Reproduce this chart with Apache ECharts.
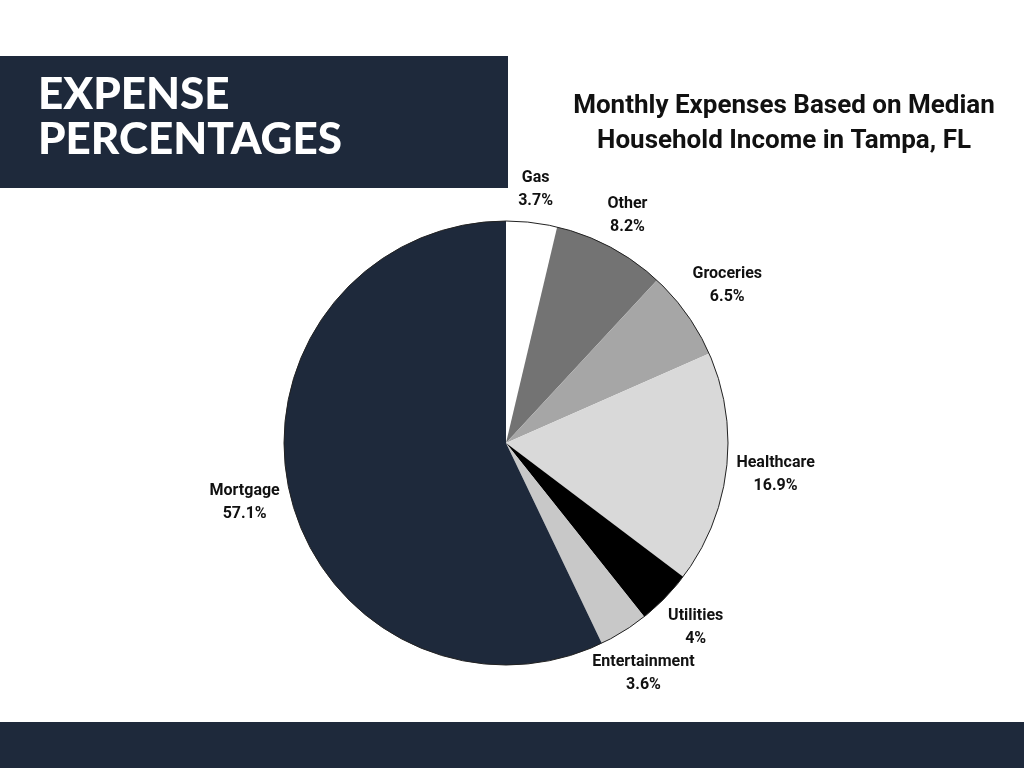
<!DOCTYPE html>
<html><head><meta charset="utf-8">
<script src="https://cdn.jsdelivr.net/npm/echarts@6/dist/echarts.min.js"></script>
<style>html,body{margin:0;padding:0;background:#fff}#c{width:1024px;height:768px}</style>
</head><body><div id="c"></div>
<script>
const categories = ['Gas', 'Other', 'Groceries', 'Healthcare', 'Utilities', 'Entertainment', 'Mortgage'];
const percentages = [3.7, 8.2, 6.5, 16.9, 4, 3.6, 57.1];
const sliceColors = ['#ffffff', '#737373', '#a6a6a6', '#d9d9d9', '#000000', '#c8c8c8', '#1e293b'];
const headline = ['EXPENSE', 'PERCENTAGES'];
const chartTitle = 'Monthly Expenses Based on Median\nHousehold Income in Tampa, FL';

const navy = '#1e293b';
const CX = 506, CY = 443, R = 222, GAP = 10;
const total = percentages.reduce((a, b) => a + b, 0);

function midAngle(i) {
  let before = 0;
  for (let k = 0; k < i; k++) before += percentages[k];
  return (before + percentages[i] / 2) / total * 2 * Math.PI; // clockwise from top
}

const placed = {};
function intersects(a, b) {
  return a.x < b.x + b.w && b.x < a.x + a.w && a.y < b.y + b.h && b.y < a.y + a.h;
}

const chart = echarts.init(document.getElementById('c'), null, { renderer: 'canvas' });
chart.setOption({
  backgroundColor: '#ffffff',
  animation: false,
  title: {
    text: chartTitle,
    left: 779, top: 84, textAlign: 'center',
    textStyle: { fontFamily: 'Roboto', fontWeight: 'bold', fontSize: 26, color: '#111', lineHeight: 35 }
  },
  graphic: [
    { type: 'rect', left: 0, top: 56, shape: { width: 508, height: 132 }, style: { fill: navy }, z: -1 },
    { type: 'rect', left: 0, top: 722, shape: { width: 1024, height: 46 }, style: { fill: navy }, z: -1 },
    { type: 'text', left: 38, top: 72, style: { text: headline.join('\n'), fill: '#fff', font: '900 44px Lato', lineHeight: 45 } }
  ],
  series: [
    {
      type: 'pie',
      center: [CX, CY], radius: [0, R],
      startAngle: 90, clockwise: true,
      data: categories.map((n, i) => ({ name: n, value: percentages[i], itemStyle: { color: sliceColors[i] } })),
      itemStyle: { borderWidth: 0 },
      label: {
        show: true, position: 'outside',
        formatter: p => p.name + '\n' + p.value + '%',
        fontFamily: 'Roboto', fontWeight: 'bold', fontSize: 16, lineHeight: 23, color: '#111'
      },
      labelLine: { show: false, length: 10, length2: 0 },
      labelLayout: function (p) {
        const i = p.dataIndex;
        const a = midAngle(i);
        const ux = Math.sin(a), uy = -Math.cos(a);
        const w = p.labelRect.width, h = p.labelRect.height;
        const t = Math.min(Math.abs(ux) > 1e-6 ? w / 2 / Math.abs(ux) : 1e9, Math.abs(uy) > 1e-6 ? h / 2 / Math.abs(uy) : 1e9);
        const d = R + GAP + t;
        let x = CX + ux * d, y = CY + uy * d;
        let rect = { x: x - w / 2, y: y - h / 2, w: w, h: h };
        for (const k in placed) {
          const o = placed[k];
          if (+k !== i && +k < i && intersects(rect, o)) {
            if (uy > 0) { rect.y = o.y + o.h; } else { rect.y = o.y - h; }
            y = rect.y + h / 2;
          }
        }
        placed[i] = rect;
        return { x: x, y: y, align: 'center', verticalAlign: 'middle' };
      },
      emphasis: { disabled: true }
    },
    {
      type: 'pie', silent: true,
      center: [CX, CY], radius: [0, R],
      data: [{ value: 1, itemStyle: { color: 'rgba(0,0,0,0)', borderColor: '#222', borderWidth: 1 } }],
      label: { show: false }, labelLine: { show: false }, z: 3
    }
  ]
});
</script></body></html>
